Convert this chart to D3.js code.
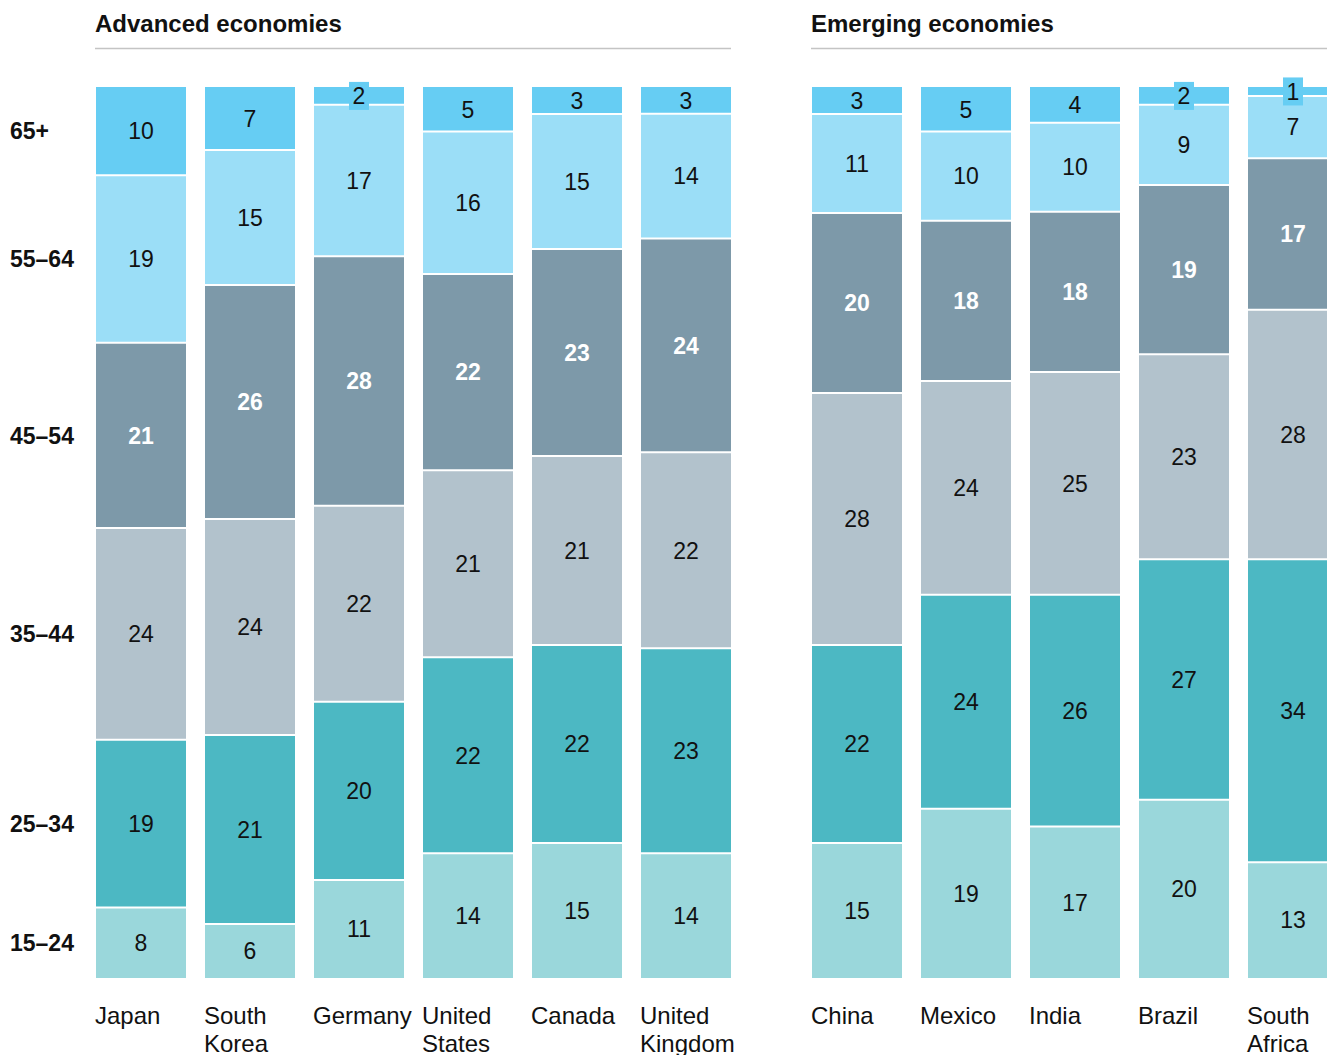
<!DOCTYPE html>
<html><head><meta charset="utf-8">
<script src="https://cdn.jsdelivr.net/npm/d3@7"></script>
<style>
html,body{margin:0;padding:0;background:#fff;overflow:hidden;}
svg{display:block;font-family:"Liberation Sans",Arial,sans-serif;}
</style></head>
<body>
<svg id="chart" width="1327" height="1055"></svg>
<script>
const ageGroups = ["15–24","25–34","35–44","45–54","55–64","65+"];
const advancedCountries = ["Japan","South Korea","Germany","United States","Canada","United Kingdom"];
const emergingCountries = ["China","Mexico","India","Brazil","South Africa"];
// values per country, in ageGroups order (bottom to top)
const advancedValues = [
  [8,19,24,21,19,10],
  [6,21,24,26,15,7],
  [11,20,22,28,17,2],
  [14,22,21,22,16,5],
  [15,22,21,23,15,3],
  [14,23,22,24,14,3]
];
const emergingValues = [
  [15,22,28,20,11,3],
  [19,24,24,18,10,5],
  [17,26,25,18,10,4],
  [20,27,23,19,9,2],
  [13,34,28,17,7,1]
];
const panelTitles = ["Advanced economies","Emerging economies"];
const colors = ["#9ad7db","#4cb8c3","#b2c2cc","#7d99a9","#9bdef7","#66cdf3"];

const svg = d3.select("#chart");
const y = d3.scaleLinear().domain([0,1]).range([978,87]);

function drawPanel(countries, values, title, x0, x1, showAxis){
  const x = d3.scaleBand().domain(countries).range([x0,x1]).paddingInner(19/109).paddingOuter(0);
  const rows = countries.map((c,i)=>{ const o={country:c}; ageGroups.forEach((a,j)=>o[a]=values[i][j]); return o; });
  const series = d3.stack().keys(ageGroups).offset(d3.stackOffsetExpand)(rows);
  const g = svg.append("g");
  // title and rule
  g.append("text").attr("x",x0-1).attr("y",32).attr("font-size",24).attr("font-weight","bold").attr("fill","#111").text(title);
  g.append("line").attr("x1",x0-1).attr("x2",Math.min(x1,1327)).attr("y1",48.5).attr("y2",48.5).attr("stroke","#c4c4c4").attr("stroke-width",1.5);
  series.forEach((s,si)=>{
    g.append("g").selectAll("rect").data(s).join("rect")
      .attr("x",d=>x(d.data.country)).attr("width",x.bandwidth())
      .attr("y",d=>y(d[1])).attr("height",d=>y(d[0])-y(d[1]))
      .attr("fill",colors[si]);
  });
  // separators
  series.slice(0,-1).forEach(s=>{
    g.append("g").selectAll("line").data(s).join("line")
      .attr("x1",d=>x(d.data.country)).attr("x2",d=>x(d.data.country)+x.bandwidth())
      .attr("y1",d=>y(d[1])).attr("y2",d=>y(d[1]))
      .attr("stroke","#fff").attr("stroke-width",2);
  });
  // labels
  series.forEach((s,si)=>{
    s.forEach((d,ci)=>{
      const v = values[ci][si];
      const cx = x(d.data.country)+x.bandwidth()/2;
      const cy = (y(d[0])+y(d[1]))/2;
      const h = y(d[0])-y(d[1]);
      if(h<22){
        g.append("rect").attr("x",cx-10).attr("y",cy-14).attr("width",20).attr("height",28).attr("fill",colors[si]);
      }
      g.append("text").attr("x",cx).attr("y",cy).attr("dy","0.36em")
        .attr("text-anchor","middle").attr("font-size",23)
        .attr("font-weight",si===3?"bold":"normal")
        .attr("fill",si===3?"#fff":"#111").text(v);
    });
  });
  // category labels
  countries.forEach(c=>{
    const words = c.split(" ");
    const t = g.append("text").attr("x",x(c)-1).attr("y",1024).attr("font-size",24).attr("fill","#111");
    words.forEach((w,i)=>t.append("tspan").attr("x",x(c)-1).attr("dy",i===0?0:28).text(w));
  });
  if(showAxis){
    const first = series.map(s=>s[0]);
    first.forEach((d,si)=>{
      svg.append("text").attr("x",10).attr("y",(y(d[0])+y(d[1]))/2).attr("dy","0.36em")
        .attr("font-size",23).attr("font-weight","bold").attr("fill","#111").text(ageGroups[si]);
    });
  }
}
drawPanel(advancedCountries, advancedValues, panelTitles[0], 96, 731, true);
drawPanel(emergingCountries, emergingValues, panelTitles[1], 812, 1338, false);
</script>
</body></html>
